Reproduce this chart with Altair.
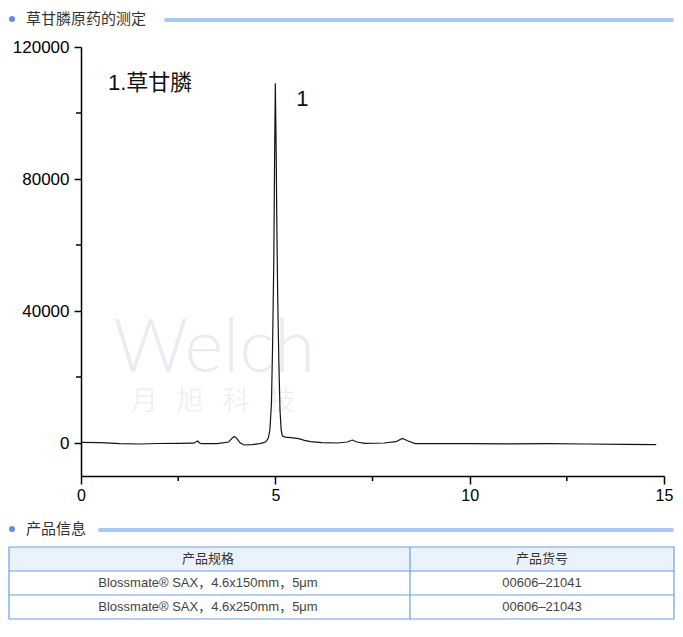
import altair as alt
import pandas as pd

# ---------------- data ----------------
time_min = [0.0, 0.5, 1.0, 1.5, 2.0, 2.5, 2.9, 3.0, 3.05, 3.1, 3.5, 3.8, 3.9, 3.95, 4.0,
            4.1, 4.2, 4.4, 4.6, 4.75, 4.82, 4.86, 4.9, 4.93, 4.96, 4.98, 5.0, 5.02, 5.04,
            5.06, 5.09, 5.12, 5.15, 5.18, 5.25, 5.4, 5.6, 5.75, 5.9, 6.2, 6.6, 6.85, 6.98,
            7.1, 7.3, 7.8, 8.1, 8.27, 8.4, 8.6, 9.0, 10.0, 11.0, 12.0, 13.0, 14.0, 14.8]
signal = [200, 100, -200, -300, -150, -100, -50, 600, 0, -200, -200, 300, 1600, 2000, 1500,
          0, -600, -500, -200, 300, 1500, 4000, 12000, 30000, 55000, 85000, 109000, 90000, 65000,
          45000, 25000, 10000, 4000, 2200, 1800, 1600, 1300, 800, 400, 100, 0, 300, 900,
          300, -100, 0, 400, 1400, 700, -200, -200, -200, -250, -200, -300, -400, -500]

x_major = [0, 5, 10, 15]
x_minor = [2.5, 7.5, 12.5]
y_major = [0, 40000, 80000, 120000]
y_minor = [20000, 60000, 100000]

peak_labels = ["1"]
peak_times = [5.0]
peak_heights = [109000]
compound_legend = ["1.草甘膦"]

section_titles = ["草甘膦原药的测定", "产品信息"]
table_header = ["产品规格", "产品货号"]
table_spec = ["Blossmate® SAX，4.6x150mm，5μm", "Blossmate® SAX，4.6x250mm，5μm"]
table_pn = ["00606–21041", "00606–21043"]

# ---------------- layout constants ----------------
W, H = 583, 429
FONT = "Liberation Sans, Arial, Noto Sans CJK SC"
CJK = "Noto Sans CJK SC, Liberation Sans"
BLACK = "#000000"

df = pd.DataFrame({"t": time_min, "signal": signal})

x_scale = alt.Scale(domain=[0, 15], nice=False, zero=False)
y_scale = alt.Scale(domain=[-10000, 120000], nice=False, zero=False)

x_enc = alt.X("t:Q", scale=x_scale,
              axis=alt.Axis(values=x_major, title=None, grid=False, format="d",
                            tickSize=8, tickWidth=1.5, domainWidth=1.5,
                            domainColor=BLACK, tickColor=BLACK,
                            labelColor=BLACK, labelFontSize=16, labelFont=FONT,
                            labelPadding=3, labelFlush=False, labelOverlap=False))
y_enc = alt.Y("signal:Q", scale=y_scale,
              axis=alt.Axis(values=y_major, title=None, grid=False, format="d",
                            tickSize=7, tickWidth=1.5, domainWidth=1.5,
                            domainColor=BLACK, tickColor=BLACK,
                            labelColor=BLACK, labelFontSize=17, labelFont=FONT,
                            labelPadding=5, labelFlush=False, labelOverlap=False))

line = alt.Chart(df).mark_line(color="#141414", strokeWidth=1.2).encode(x=x_enc, y=y_enc)

minor_x = alt.Chart(pd.DataFrame({"t": x_minor})).mark_rule(
    color=BLACK, strokeWidth=1.5).encode(
    x=alt.X("t:Q", scale=x_scale), y=alt.value(H), y2=alt.value(H + 5))

minor_y = alt.Chart(pd.DataFrame({"signal": y_minor})).mark_rule(
    color=BLACK, strokeWidth=1.5).encode(
    y=alt.Y("signal:Q", scale=y_scale), x=alt.value(-5), x2=alt.value(0))

peak_text = alt.Chart(pd.DataFrame({"t": peak_times, "signal": peak_heights,
                                    "label": peak_labels})).mark_text(
    dx=27, dy=16, fontSize=22, font=FONT, color="#111111").encode(
    x=alt.X("t:Q", scale=x_scale), y=alt.Y("signal:Q", scale=y_scale), text="label:N")

legend_text = alt.Chart(pd.DataFrame({"label": compound_legend})).mark_text(
    align="left", baseline="middle", fontSize=22, font=FONT, color="#111111").encode(
    x=alt.value(27), y=alt.value(36), text="label:N")

# faint watermark
wm1 = alt.Chart(pd.DataFrame({"w": ["Welch"]})).mark_text(
    fontSize=74, font="Lato", fontWeight=300, color="#e9edf1", baseline="alphabetic").encode(
    x=alt.value(133), y=alt.value(325), text="w:N")
wm2 = alt.Chart(pd.DataFrame({"w": ["月\u2002\u2009旭\u2002\u2009科\u2002\u2009技"]})).mark_text(
    fontSize=27, font=CJK, fontWeight=300, color="#eceef0", baseline="middle").encode(
    x=alt.value(132), y=alt.value(355), text="w:N")

# section headers
sec_y = [-28, 482]
sec_line_x = [(85, 591), (19, 591)]
section_layers = []
for i, title in enumerate(section_titles):
    d = pd.DataFrame({"title": [title]})
    section_layers.append(alt.Chart(d).mark_circle(size=36, color="#5b8ff0", opacity=1).encode(
        x=alt.value(-69), y=alt.value(sec_y[i])))
    section_layers.append(alt.Chart(d).mark_text(
        align="left", baseline="middle", fontSize=15, font=CJK, color="#333333").encode(
        x=alt.value(-55), y=alt.value(sec_y[i]), text="title:N"))
    section_layers.append(alt.Chart(d).mark_rule(
        strokeWidth=4, strokeCap="round", color="#a9c8f4").encode(
        x=alt.value(sec_line_x[i][0]), x2=alt.value(sec_line_x[i][1]), y=alt.value(sec_y[i] + 1)))

# table
T_LEFT, T_RIGHT, T_TOP, T_ROW = -72, 593, 500, 24
T_DIV = 329
COL_X = [127, 461]
one = pd.DataFrame({"k": [0]})
header_bg = alt.Chart(one).mark_rect(fill="#eaf2fc").encode(
    x=alt.value(T_LEFT), x2=alt.value(T_RIGHT), y=alt.value(T_TOP), y2=alt.value(T_TOP + T_ROW))
border = alt.Chart(one).mark_rect(fillOpacity=0, stroke="#6d9ee8", strokeWidth=1.2).encode(
    x=alt.value(T_LEFT), x2=alt.value(T_RIGHT), y=alt.value(T_TOP), y2=alt.value(T_TOP + 3 * T_ROW))
hlines = [alt.Chart(one).mark_rule(color="#6d9ee8", strokeWidth=1.2).encode(
    x=alt.value(T_LEFT), x2=alt.value(T_RIGHT), y=alt.value(T_TOP + k * T_ROW)) for k in (1, 2)]
vline = alt.Chart(one).mark_rule(color="#6d9ee8", strokeWidth=1.2).encode(
    x=alt.value(T_DIV), y=alt.value(T_TOP), y2=alt.value(T_TOP + 3 * T_ROW))

table_rows = [table_header] + [list(p) for p in zip(table_spec, table_pn)]
table_text = []
for r, row in enumerate(table_rows):
    for c, txt in enumerate(row):
        table_text.append(
            alt.Chart(pd.DataFrame({"text": [txt]})).mark_text(
                fontSize=13, font=FONT if r else CJK, baseline="middle",
                color="#333333" if r == 0 else "#444444").encode(
                x=alt.value(COL_X[c]), y=alt.value(T_TOP + T_ROW * (r + 0.5)), text="text:N"))

chart = alt.layer(
    wm1, wm2, line, minor_x, minor_y, peak_text, legend_text, *section_layers,
    header_bg, *hlines, vline, border, *table_text,
).properties(
    width=W, height=H,
    autosize=alt.AutoSizeParams(type="none"),
    padding={"left": 73, "top": 39, "right": 11, "bottom": 145},
    background="white",
).configure_view(stroke=None)

chart.save("out.html", embed_options={"renderer": "svg", "actions": False})
